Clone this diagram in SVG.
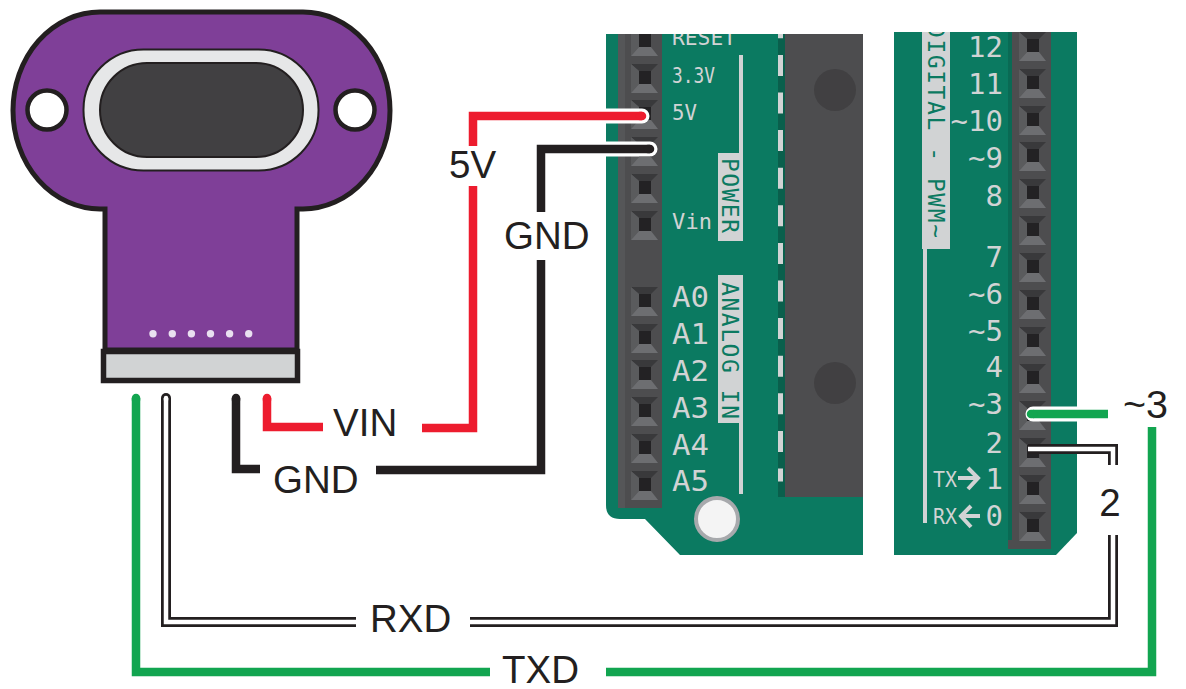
<svg xmlns="http://www.w3.org/2000/svg" width="1186" height="689" viewBox="0 0 1186 689">
<style>
.pcb{fill:#0b7a61}
.hdr{fill:#4d4d4f}
.silk{fill:#d1d3d4}
.st{font-family:"DejaVu Sans Mono","Liberation Mono",monospace;fill:#d1d3d4}
.sm{font-size:22px}
.lg{font-size:29px}
.dg{font-size:29px;text-anchor:end}
.tx{font-size:21px}
.rot{font-family:"DejaVu Sans Mono","Liberation Mono",monospace;fill:#0b7a61;font-size:23px}
.lb{font-family:"Liberation Sans",Arial,sans-serif;font-size:38.500px;fill:#231f20}
.w{fill:none;stroke-linejoin:miter}
.red{stroke:#ed1c2e;stroke-width:8.500}
.blk{stroke:#231f20;stroke-width:8.500}
.grn{stroke:#12a550;stroke-width:8.500}
.halo{stroke:#fff;stroke-width:15;stroke-linecap:round}
.o{stroke:#231f20;stroke-width:10}
.i{stroke:#fff;stroke-width:4.500}
.r{stroke-linecap:round}
.arr{fill:none;stroke:#d1d3d4;stroke-width:4}
</style>
<defs>
<clipPath id="clipL"><rect x="600" y="34" width="270" height="530"/></clipPath>
<clipPath id="clipR"><rect x="890" y="32" width="195" height="530"/></clipPath>
<g id="pin">
<polygon points="-14,-13 13,-13 6,-6 -6,-6" fill="#39393b"/>
<polygon points="-14,-13 -6,-6 -6,7 -14,16" fill="#5a5b5d"/>
<polygon points="-14,16 -6,7 6,7 13,16" fill="#6d6e71"/>
<rect x="-6" y="-6" width="12" height="13" fill="#232224"/>
</g>
</defs>

<g id="module">
<path d="M105,350V209H100A87,98.500 0 0 1 100,12H303A87,98.500 0 0 1 303,209H297V350Z" fill="#7f3f98" stroke="#231f20" stroke-width="5"/>
<rect x="83.500" y="49.500" width="235" height="121" rx="60" fill="#e6e7e8" stroke="#231f20" stroke-width="2"/>
<rect x="100" y="63" width="203" height="94" rx="47" fill="#414042" stroke="#231f20" stroke-width="2"/>
<circle cx="47" cy="110" r="19.500" fill="#fff" stroke="#231f20" stroke-width="4.500"/>
<circle cx="355" cy="110" r="19.500" fill="#fff" stroke="#231f20" stroke-width="4.500"/>
<g fill="#e9e0f0">
<circle cx="153" cy="333.700" r="3.700"/><circle cx="172.300" cy="333.700" r="3.700"/><circle cx="191.400" cy="333.700" r="3.700"/><circle cx="210.500" cy="333.700" r="3.700"/><circle cx="229.600" cy="333.700" r="3.700"/><circle cx="248.700" cy="333.700" r="3.700"/>
</g>
<rect x="103.500" y="351.500" width="194" height="29" fill="#d1d3d4" stroke="#231f20" stroke-width="5.500"/>
</g>

<g id="board-left" clip-path="url(#clipL)">
<path class="pcb" d="M606,20H863V555H680L645,519H620Q606,519 606,505Z"/>
<rect x="778" y="20" width="8" height="477" fill="#0a5f4c"/>
<rect class="hdr" x="785" y="20" width="78" height="477"/>
<circle cx="835" cy="90" r="21" fill="#414042"/>
<circle cx="835" cy="383" r="21" fill="#414042"/>
<path d="M780.500,17.300V481.500" fill="none" stroke="#d1d3d4" stroke-width="5" stroke-dasharray="21 16.600"/>
<rect x="618" y="20" width="44" height="488" fill="#4d4d4f"/>
<rect x="618" y="20" width="7" height="488" fill="#555658"/>
<use href="#pin" x="645" y="40"/><use href="#pin" x="645" y="77"/><use href="#pin" x="645" y="113"/><use href="#pin" x="645" y="150"/><use href="#pin" x="645" y="187"/><use href="#pin" x="645" y="224"/>
<use href="#pin" x="645" y="300"/><use href="#pin" x="645" y="337"/><use href="#pin" x="645" y="373"/><use href="#pin" x="645" y="410"/><use href="#pin" x="645" y="447"/><use href="#pin" x="645" y="484"/>
<circle cx="717" cy="519" r="21" fill="#f4f4f4" stroke="#a7a9ac" stroke-width="4"/>
<rect class="silk" x="739" y="55" width="4" height="98"/>
<rect class="silk" x="718" y="153" width="25" height="88"/>
<rect class="silk" x="718" y="275" width="25" height="148"/>
<rect class="silk" x="739" y="423" width="4" height="71"/>
<text class="st sm" x="672" y="45" textLength="64" lengthAdjust="spacingAndGlyphs">RESET</text>
<text class="st sm" x="672" y="83" textLength="43" lengthAdjust="spacingAndGlyphs">3.3V</text>
<text class="st sm" x="672" y="120" textLength="25" lengthAdjust="spacingAndGlyphs">5V</text>
<text class="st sm" x="672" y="229" textLength="40" lengthAdjust="spacing">Vin</text>
<text class="st lg" x="672" y="307" textLength="37" lengthAdjust="spacingAndGlyphs">A0</text>
<text class="st lg" x="672" y="344" textLength="37" lengthAdjust="spacingAndGlyphs">A1</text>
<text class="st lg" x="672" y="381" textLength="37" lengthAdjust="spacingAndGlyphs">A2</text>
<text class="st lg" x="672" y="418" textLength="37" lengthAdjust="spacingAndGlyphs">A3</text>
<text class="st lg" x="672" y="455" textLength="37" lengthAdjust="spacingAndGlyphs">A4</text>
<text class="st lg" x="672" y="491" textLength="37" lengthAdjust="spacingAndGlyphs">A5</text>
<text class="rot" transform="translate(722,158) rotate(90)" textLength="75" lengthAdjust="spacing">POWER</text>
<text class="rot" transform="translate(722,282) rotate(90)" textLength="137" lengthAdjust="spacing">ANALOG IN</text>
</g>

<g id="board-right" clip-path="url(#clipR)">
<path class="pcb" d="M894,20H1077V533L1056,555H894Z"/>
<rect x="1008" y="20" width="6" height="529" fill="#0a6a54"/>
<rect class="hdr" x="1012" y="20" width="39" height="529"/>
<rect x="1008" y="540" width="6" height="9" fill="#4d4d4f"/>
<use href="#pin" x="1033" y="45"/><use href="#pin" x="1033" y="82"/><use href="#pin" x="1033" y="119"/><use href="#pin" x="1033" y="155"/><use href="#pin" x="1033" y="192"/><use href="#pin" x="1033" y="229"/><use href="#pin" x="1033" y="266"/>
<use href="#pin" x="1033" y="303"/><use href="#pin" x="1033" y="340"/><use href="#pin" x="1033" y="377"/><use href="#pin" x="1033" y="414"/><use href="#pin" x="1033" y="451"/><use href="#pin" x="1033" y="488"/><use href="#pin" x="1033" y="525"/>
<rect class="silk" x="922" y="20" width="28" height="229"/>
<rect class="silk" x="923" y="249" width="4" height="274"/>
<text class="rot" transform="translate(928,24) rotate(90)" letter-spacing="1.550">DIGITAL - PWM~</text>
<text class="st dg" x="1003" y="57">12</text>
<text class="st dg" x="1003" y="94">11</text>
<text class="st dg" x="1003" y="131">~10</text>
<text class="st dg" x="1003" y="168">~9</text>
<text class="st dg" x="1003" y="206">8</text>
<text class="st dg" x="1003" y="267">7</text>
<text class="st dg" x="1003" y="304">~6</text>
<text class="st dg" x="1003" y="341">~5</text>
<text class="st dg" x="1003" y="377">4</text>
<text class="st dg" x="1003" y="414">~3</text>
<text class="st dg" x="1003" y="453">2</text>
<text class="st dg" x="1003" y="489">1</text>
<text class="st dg" x="1003" y="526">0</text>
<text class="st tx" x="933" y="487" textLength="24" lengthAdjust="spacingAndGlyphs">TX</text>
<text class="st tx" x="933" y="524" textLength="24" lengthAdjust="spacingAndGlyphs">RX</text>
<path class="arr" d="M958,478H977M968,468L978,478L968,489"/>
<path class="arr" d="M980,516H961M971,506L961,516L971,527"/>
</g>

<g id="connectors">
<path class="w halo" d="M600,116H642"/>
<path class="w red" d="M642,116H473V146"/>
<path class="w red" d="M473,186V428H422"/>
<path class="w red r" d="M642,116H640"/>
<path class="w red" d="M267,398V427H323"/>
<path class="w red r" d="M267,398V400"/>
<path class="w halo" d="M600,149H650"/>
<path class="w blk" d="M650,149H541V212"/>
<path class="w blk" d="M541,260V470H376"/>
<path class="w blk r" d="M650,149H648"/>
<path class="w blk" d="M236,398V469H260"/>
<path class="w blk r" d="M236,398V400"/>
<path class="w halo" d="M1100,414H1033"/>
<path class="w grn" d="M1108,414H1033"/>
<path class="w grn r" d="M1031,414H1033"/>
<path class="w grn" d="M1152,427V672H606"/>
<path class="w grn" d="M490,672H136V398"/>
<path class="w grn r" d="M136,398V400"/>
<path class="w o" d="M1028,449H1113V465"/>
<path class="w i" d="M1028,449H1113V465"/>
<path class="w o" d="M1113,535V622H470"/>
<path class="w i" d="M1113,535V622H470"/>
<path class="w o r" d="M166,398V400"/>
<path class="w o" d="M356,622H166V398"/>
<path class="w i" d="M356,622H166V398"/>
<path class="w i r" d="M166,398V400"/>
</g>

<g id="labels">
<text class="lb" x="449" y="178">5V</text>
<text class="lb" x="504" y="249">GND</text>
<text class="lb" x="333" y="436">VIN</text>
<text class="lb" x="273" y="493">GND</text>
<text class="lb" x="370" y="632">RXD</text>
<text class="lb" x="502" y="683">TXD</text>
<text class="lb" x="1123" y="418" textLength="45" lengthAdjust="spacingAndGlyphs">~3</text>
<text class="lb" x="1110" y="516" text-anchor="middle">2</text>
</g>
</svg>
